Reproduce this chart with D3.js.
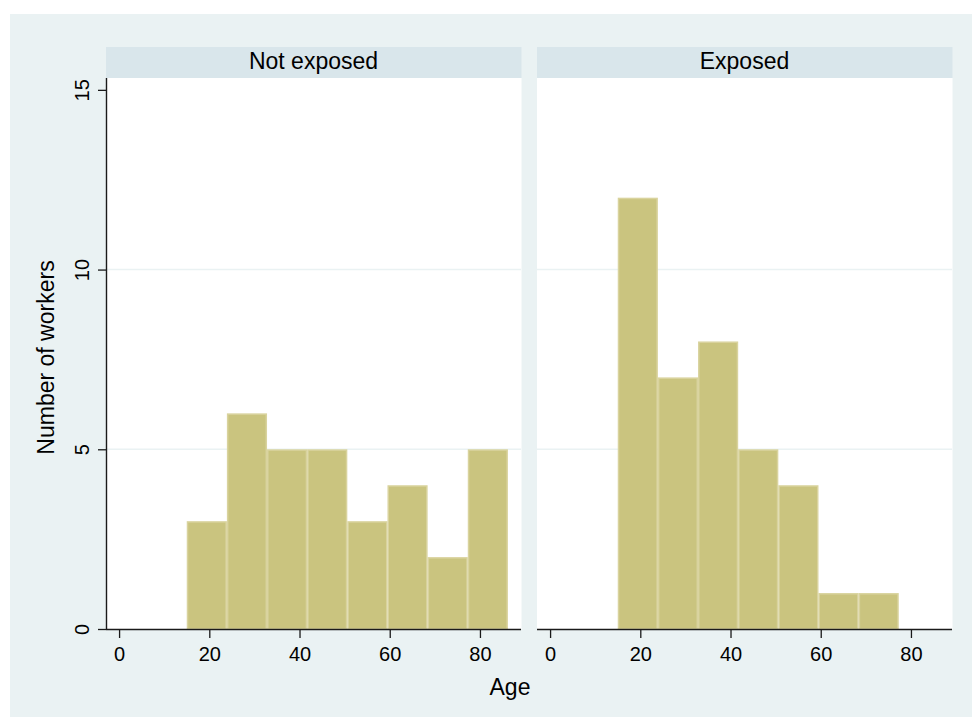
<!DOCTYPE html>
<html>
<head>
<meta charset="utf-8">
<script src="https://cdn.jsdelivr.net/npm/d3@7"></script>
<style>
  html, body { margin: 0; padding: 0; background: #ffffff; }
  svg { display: block; font-family: "Liberation Sans", Arial, Helvetica, sans-serif; }
</style>
</head>
<body>
<svg id="chart" width="972" height="717"></svg>
<script>
// Age histogram of workers, split by exposure status (common bins)
const panels = ["Not exposed", "Exposed"];
const binEdges = [15, 23.9, 32.8, 41.7, 50.6, 59.5, 68.4, 77.3, 86.2];
const notExposedCounts = [3, 6, 5, 5, 3, 4, 2, 5];
const exposedCounts = [12, 7, 8, 5, 4, 1, 1, 0];
const xTicks = [0, 20, 40, 60, 80];
const yTicks = [0, 5, 10, 15];
const xTitle = "Age";
const yTitle = "Number of workers";

const seriesByPanel = [notExposedCounts, exposedCounts];

const W = 972, H = 717;
const svg = d3.select("#chart");

const bgColor = "#eaf2f3";
const stripColor = "#d9e6eb";
const barFill = "#cac47f";
const barEdge = "#d9d39e";
const axisColor = "#1a1a1a";

// outer graph region
svg.append("rect").attr("x", 10).attr("y", 14).attr("width", W - 10).attr("height", H - 14)
  .attr("fill", bgColor);

const panelLeft = [106, 537];
const panelWidth = 415;
const plotTop = 78, plotBottom = 629;
const stripTop = 47;

const y = d3.scaleLinear().domain([0, 15.33]).range([plotBottom, plotTop]);

panels.forEach((name, i) => {
  const x0 = panelLeft[i];
  const x = d3.scaleLinear().domain([-2.9, 89.1]).range([x0, x0 + panelWidth]);
  const g = svg.append("g");

  // panel title strip
  g.append("rect").attr("x", x0).attr("y", stripTop).attr("width", panelWidth + 0.5)
    .attr("height", plotTop - stripTop).attr("fill", stripColor);
  g.append("text").attr("x", x0 + panelWidth / 2).attr("y", 69.3)
    .attr("text-anchor", "middle").attr("font-size", 23).attr("fill", "#000")
    .text(name);

  // plot region
  g.append("rect").attr("x", x0).attr("y", plotTop).attr("width", panelWidth + 0.5)
    .attr("height", plotBottom - plotTop).attr("fill", "#ffffff");

  // horizontal grid lines (interior ticks only)
  g.selectAll("line.grid").data(yTicks.filter(t => t > 0 && t < 15)).join("line")
    .attr("class", "grid")
    .attr("x1", x0).attr("x2", x0 + panelWidth)
    .attr("y1", d => y(d)).attr("y2", d => y(d))
    .attr("stroke", bgColor).attr("stroke-width", 1.6);

  // bars
  const counts = seriesByPanel[i];
  const bins = counts.map((c, k) => ({ lo: binEdges[k], hi: binEdges[k + 1], c }))
    .filter(b => b.c > 0);
  g.selectAll("rect.bar").data(bins).join("rect")
    .attr("class", "bar")
    .attr("x", d => x(d.lo) + 0.75)
    .attr("y", d => y(d.c) + 0.75)
    .attr("width", d => x(d.hi) - x(d.lo) - 1.5)
    .attr("height", d => y(0) - y(d.c) - 0.75)
    .attr("fill", barFill)
    .attr("stroke", barEdge).attr("stroke-width", 1.5);

  // x axis
  const xAxis = d3.axisBottom(x).tickValues(xTicks).tickSize(9).tickPadding(7)
    .tickFormat(d3.format("d"));
  const ax = g.append("g").attr("transform", `translate(0,${plotBottom})`).call(xAxis);
  ax.select(".domain").attr("stroke", axisColor).attr("stroke-width", 1.4)
    .attr("d", `M${x0},0.5H${x0 + panelWidth}`);
  ax.selectAll(".tick line").attr("stroke", axisColor).attr("stroke-width", 1.3);
  ax.selectAll(".tick text").attr("font-size", 20).attr("fill", "#000")
    .attr("font-family", "Liberation Sans, Arial, sans-serif")
    .attr("dy", null).attr("y", 32);

  // y axis on the first panel only
  if (i === 0) {
    const yAxis = d3.axisLeft(y).tickValues(yTicks).tickSize(8).tickFormat(d3.format("d"));
    const ay = g.append("g").attr("transform", `translate(${x0},0)`).call(yAxis);
    ay.select(".domain").attr("stroke", axisColor).attr("stroke-width", 1.4)
      .attr("d", `M0.5,${plotTop}V${plotBottom + 0.5}`);
    ay.selectAll(".tick line").attr("stroke", axisColor).attr("stroke-width", 1.3);
    ay.selectAll(".tick text")
      .attr("font-size", 20).attr("fill", "#000")
      .attr("font-family", "Liberation Sans, Arial, sans-serif")
      .attr("x", null).attr("dy", null)
      .attr("text-anchor", "middle")
      .attr("transform", "translate(-17,0) rotate(-90)");
  }
});

// axis titles
svg.append("text").attr("x", 510).attr("y", 695).attr("text-anchor", "middle")
  .attr("font-size", 23).attr("fill", "#000").text(xTitle);
svg.append("text").attr("transform", `translate(53.5,${(plotTop + plotBottom) / 2 + 4}) rotate(-90)`)
  .attr("text-anchor", "middle").attr("font-size", 23).attr("fill", "#000").text(yTitle);
</script>
</body>
</html>
